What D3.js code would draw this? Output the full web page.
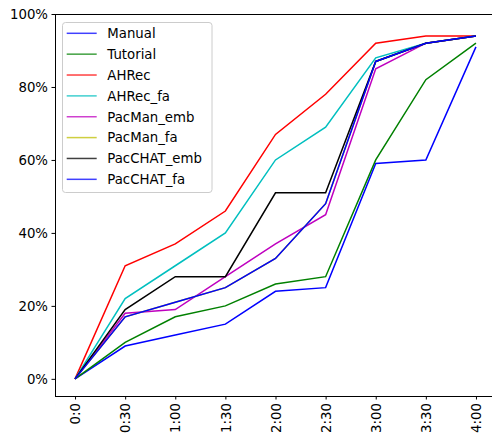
<!DOCTYPE html>
<html><head><meta charset="utf-8">
<script src="https://cdn.jsdelivr.net/npm/d3@7"></script>
<style>body{margin:0;background:#fff;overflow:hidden}svg{display:block}text{font-family:"DejaVu Sans",sans-serif}</style>
</head><body><svg id="c" width="492" height="433"></svg>
<script>
const categories = ["0:0","0:30","1:00","1:30","2:00","2:30","3:00","3:30","4:00"];
const seriesNames = ["Manual","Tutorial","AHRec","AHRec_fa","PacMan_emb","PacMan_fa","PacCHAT_emb","PacCHAT_fa"];
const seriesColors = ["#0000ff","#008000","#ff0000","#00bfbf","#bf00bf","#bfbf00","#000000","#0000ff"];
const manual      = [0, 9, 12, 15, 24, 25, 59, 60, 91];
const tutorial    = [0, 10, 17, 20, 26, 28, 60, 82, 92];
const ahrec       = [0, 31, 37, 46, 67, 78, 92, 94, 94];
const ahrecFa     = [0, 22, 31, 40, 60, 69, 88, 92, 94];
const pacmanEmb   = [0, 18, 19, 28, 37, 45, 85, 92, 94];
const pacmanFa    = [0, 17, 21, 25, 33, 48, 87, 92, 94];
const pacchatEmb  = [0, 19, 28, 28, 51, 51, 87, 92, 94];
const pacchatFa   = [0, 17, 21, 25, 33, 48, 87, 92, 94];
const yTicks = [0, 0.2, 0.4, 0.6, 0.8, 1.0];
const seriesValues = [manual, tutorial, ahrec, ahrecFa, pacmanEmb, pacmanFa, pacchatEmb, pacchatFa];

const svg = d3.select("#c");
const L = 55, R = 496, T = 14, B = 396;
const x = d3.scaleLinear().domain([-0.4, categories.length - 1 + 0.4]).range([L, R]);
const y = d3.scaleLinear().domain([-0.047, 1.0]).range([B, T]);

// lines
const line = d3.line().x((d, i) => x(i)).y(d => y(d / 100));
seriesValues.forEach((vals, k) => {
  svg.append("path").attr("d", line(vals)).attr("fill", "none")
    .attr("stroke", seriesColors[k]).attr("stroke-width", 1.5)
    .attr("stroke-linejoin", "miter");
});

// axes
const yAxis = d3.axisLeft(y).tickValues(yTicks).tickFormat(d3.format(".0%")).tickSizeOuter(0).tickSize(3.5).tickPadding(3.5);
const gy = svg.append("g").attr("transform", `translate(${L},0)`).call(yAxis);
gy.select(".domain").remove();
gy.selectAll("text").attr("font-size", "13.3px").attr("fill", "#000").attr("font-family", "DejaVu Sans");

const xAxis = d3.axisBottom(x).tickValues(d3.range(categories.length)).tickFormat(i => categories[i]).tickSizeOuter(0).tickSize(3.5);
const gx = svg.append("g").attr("transform", `translate(0,${B})`).call(xAxis);
gx.select(".domain").remove();
gx.selectAll("text").attr("font-size", "13.3px").attr("fill", "#000").attr("font-family", "DejaVu Sans")
  .attr("transform", "rotate(-90)").attr("text-anchor", "end").attr("dx", "-7px").attr("dy", "0.35em").attr("y", 0).attr("x", 0);

// spines
svg.append("line").attr("x1", L + 0.5).attr("x2", L + 0.5).attr("y1", T).attr("y2", B + 0.5).attr("stroke", "#000").attr("stroke-width", 1);
svg.append("line").attr("x1", L).attr("x2", R).attr("y1", B + 0.5).attr("y2", B + 0.5).attr("stroke", "#000").attr("stroke-width", 1);
svg.append("line").attr("x1", L).attr("x2", R).attr("y1", T + 0.5).attr("y2", T + 0.5).attr("stroke", "#000").attr("stroke-width", 1);

// legend
const lg = svg.append("g");
lg.append("rect").attr("x", 62.5).attr("y", 22.5).attr("width", 149.5).attr("height", 170).attr("rx", 3)
  .attr("fill", "#fff").attr("fill-opacity", 0.8).attr("stroke", "#cccccc").attr("stroke-width", 1);
seriesNames.forEach((n, k) => {
  const cy = 33.3 + k * 20.86;
  lg.append("line").attr("x1", 66.7).attr("x2", 96.7).attr("y1", cy).attr("y2", cy)
    .attr("stroke", seriesColors[k]).attr("stroke-width", 1.5).attr("stroke-opacity", 0.75);
  lg.append("text").attr("x", 107.3).attr("y", cy).attr("dy", "0.36em").attr("font-size", "13.3px").attr("fill", "#000").text(n);
});
</script></body></html>
